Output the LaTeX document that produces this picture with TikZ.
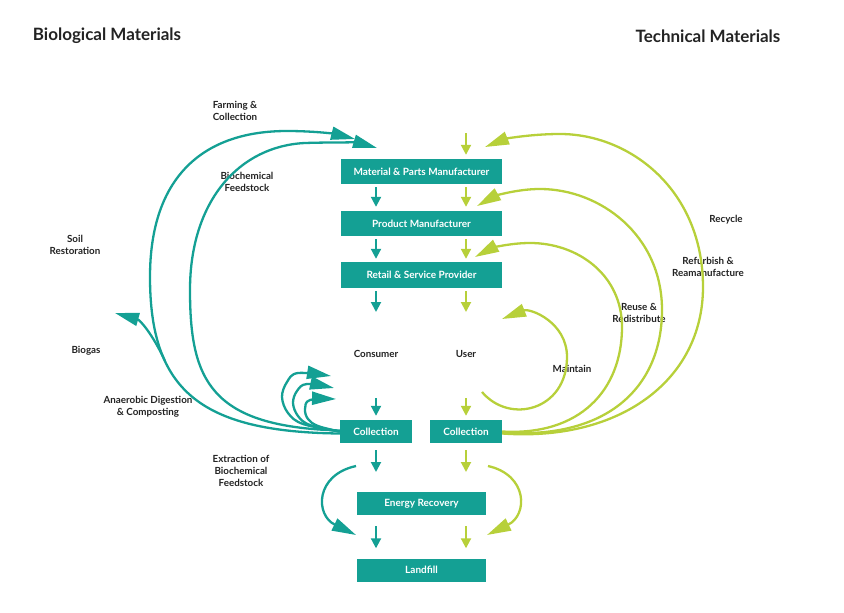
\documentclass[tikz,border=0pt]{standalone}
\usepackage{fontspec}
\setmainfont{Lato}
\usetikzlibrary{arrows.meta}
\definecolor{tealc}{RGB}{20,160,148}
\definecolor{limec}{RGB}{183,208,58}
\definecolor{darkc}{RGB}{35,35,35}
\begin{document}
\begin{tikzpicture}[x=1pt,y=-1pt,
  box/.style={fill=tealc, text=white, font=\bfseries\fontsize{10}{12}\selectfont, minimum height=25pt, inner sep=0pt},
  lbl/.style={text=darkc, font=\bfseries\fontsize{9.8}{12}\selectfont, align=center, inner sep=0pt},
  ttl/.style={text=darkc, font=\bfseries\fontsize{17}{20}\selectfont, inner sep=0pt},
  big/.style={line width=2.3pt, -{Triangle[length=24pt,width=13pt]}},
  sm/.style={line width=2pt, -{Triangle[length=10pt,width=10pt]}},
  tl/.style={tealc}, lm/.style={limec}
]
\useasboundingbox (0,0) rectangle (844,613);

% titles
\node[ttl] (t1) at (107,36) {Biological Materials};
\node[ttl] (t2) at (708,36) {Technical Materials};

% boxes
\node[box, minimum width=161pt] (mp) at (421.5,171.5) {Material \& Parts Manufacturer};
\node[box, minimum width=161pt] (pm) at (421.5,223.5) {Product Manufacturer};
\node[box, minimum width=161pt, minimum height=26pt] (rs) at (421.5,275) {Retail \& Service Provider};
\node[box, minimum width=72pt, minimum height=23pt] (cl) at (376,431.5) {Collection};
\node[box, minimum width=72pt, minimum height=23pt] (cr) at (466,431.5) {Collection};
\node[box, minimum width=129pt, minimum height=23pt] (er) at (421.5,503.5) {Energy Recovery};
\node[box, minimum width=129pt, minimum height=23pt] (lf) at (421.5,570) {Landfill};

\node[lbl] (con) at (376,354) {Consumer};
\node[lbl] (usr) at (466,354) {User};

% labels
\node[lbl] (l1) at (235,111) {Farming \&\\Collection};
\node[lbl] (l2) at (247,182) {Biochemical\\Feedstock};
\node[lbl] (l3) at (75,245) {Soil\\Restoration};
\node[lbl] (l4) at (86,351) {Biogas};
\node[lbl] (l5) at (148,407) {Anaerobic Digestion\\\& Composting};
\node[lbl] (l6) at (241,471) {Extraction of\\Biochemical\\Feedstock};
\node[lbl] (l7) at (726,220) {Recycle};
\node[lbl] (l8) at (708,267) {Refurbish \&\\Reamanufacture};
\node[lbl] (l9) at (639,313) {Reuse \&\\Redistribute};
\node[lbl] (l10) at (572,369) {Maintain};

% free-end coordinates
\coordinate (ltop) at (466,133);
\coordinate (tr1) at (376,312);
\coordinate (lr1) at (466,312);
\coordinate (tc0) at (376,398);
\coordinate (lc0) at (466,398);
\coordinate (tc1) at (376,472);
\coordinate (lc1) at (466,472);

% straight arrows teal
\draw[sm,tl,shorten <=3pt,shorten >=4pt] (mp.south -| cl) -- (pm.north -| cl);
\draw[sm,tl,shorten <=3pt,shorten >=3pt] (pm.south -| cl) -- (rs.north -| cl);
\draw[sm,tl,shorten <=3pt] (rs.south -| cl) -- (tr1);
\draw[sm,tl,shorten >=4pt] (tc0) -- (cl.north);
\draw[sm,tl,shorten <=7pt] (cl.south) -- (tc1);
\draw[sm,tl,shorten <=11pt,shorten >=10pt] (er.south -| cl) -- (lf.north -| cl);
% straight arrows lime
\draw[sm,lm,shorten >=4pt] (ltop) -- (mp.north -| cr);
\draw[sm,lm,shorten <=3pt,shorten >=4pt] (mp.south -| cr) -- (pm.north -| cr);
\draw[sm,lm,shorten <=3pt,shorten >=3pt] (pm.south -| cr) -- (rs.north -| cr);
\draw[sm,lm,shorten <=3pt] (rs.south -| cr) -- (lr1);
\draw[sm,lm,shorten >=4pt] (lc0) -- (cr.north);
\draw[sm,lm,shorten <=7pt] (cr.south) -- (lc1);
\draw[sm,lm,shorten <=11pt,shorten >=10pt] (er.south -| cr) -- (lf.north -| cr);

% teal big arcs
\coordinate (ft) at (355,139);
\coordinate (bt) at (377,148);
\draw[big,tl] ([yshift=-2pt]cl.west) .. controls (200,432) and (150,390) .. (150,277)
   .. controls (150,175) and (205,131) .. (287,131)
   .. controls (315,131) and (335,134) .. (ft);
\draw[big,tl] ([yshift=1pt]cl.west) .. controls (210,427) and (190,380) .. (190,290)
   .. controls (190,200) and (240,146) .. (305,143)
   .. controls (335,142) and (360,143) .. (bt);
% biogas
\coordinate (bg0) at (164.6,360.2);
\coordinate (bgt) at (115,313);
\draw[big,tl] (bg0) .. controls (152.5,334) and (140,320) .. (bgt);
% small arcs
\coordinate (s1t) at (331,376);
\coordinate (s2t) at (334,388);
\coordinate (s3t) at (336,399);
\draw[big,tl] plot[smooth, tension=0.6] coordinates {(cl.west) (303,424) (288,413) (282,397) (287,382) (298,373) (s1t)};
\draw[big,tl] plot[smooth, tension=0.6] coordinates {(cl.west) (310,425) (298,416) (293,403) (297,391) (307,384) (s2t)};
\draw[big,tl] plot[smooth, tension=0.6] coordinates {(cl.west) (318,426) (308,419) (305,409) (310,400) (s3t)};

% lime big arcs
\coordinate (rct) at (485,147);
\coordinate (rft) at (477,206);
\coordinate (rut) at (475,257);
\coordinate (mst) at (482,392);
\coordinate (mtt) at (502,319);
\draw[big,lm] ([yshift=-2pt]cr.east) .. controls (620,442) and (703,380) .. (703,287)
   .. controls (703,190) and (630,134) .. (560,134)
   .. controls (530,134) and (505,139) .. (rct);
\draw[big,lm] ([yshift=-1pt]cr.east) .. controls (610,440) and (662,385) .. (662,310)
   .. controls (662,235) and (600,189) .. (540,189)
   .. controls (515,189) and (493,197) .. (rft);
\draw[big,lm] (cr.east) .. controls (580,436) and (622,390) .. (622,327)
   .. controls (622,275) and (578,243) .. (530,243)
   .. controls (508,243) and (490,249) .. (rut);
\draw[big,lm] (mst) .. controls (510,425) and (567,410) .. (567,357)
   .. controls (567,322) and (530,308) .. (mtt);

% energy recovery bypass arrows
\coordinate (tes) at (356,466);
\coordinate (tee) at (356,535);
\coordinate (les) at (488,466);
\coordinate (lee) at (487,535);
\draw[big,tl] (tes) .. controls (315,475) and (315,515) .. (tee);
\draw[big,lm] (les) .. controls (528,475) and (528,515) .. (lee);
\end{tikzpicture}
\end{document}
